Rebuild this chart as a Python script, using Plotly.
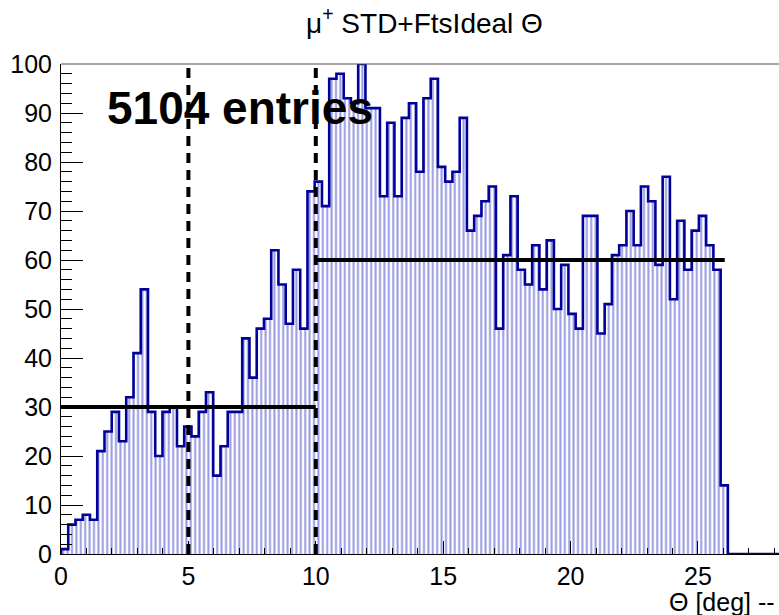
import numpy as np
import plotly.graph_objects as go

# Theta distribution of mu+ tracks (STD+FtsIdeal), 92 filled bins starting at 0 deg
bin_width = 0.2845
counts = [1, 6, 7, 8, 7, 21, 25, 29, 23, 32, 41, 54, 29, 20, 29, 30, 22, 26,
          24, 29, 33, 16, 22, 29, 29, 44, 36, 46, 48, 62, 55, 47, 58, 46, 74,
          76, 71, 97, 98, 93, 92, 100, 91, 91, 73, 88, 73, 89, 92, 78, 93, 97,
          79, 76, 78, 89, 66, 69, 72, 75, 46, 61, 73, 58, 55, 63, 54, 64, 50, 59,
          49, 46, 69, 69, 45, 51, 61, 63, 70, 63, 75, 72, 59, 77, 52, 68, 58, 66,
          69, 63, 58, 14]

# Region boundaries (dashed) and plateau levels (solid)
cut_positions = [5, 10]
plateaus = [(0, 10, 30), (10, 26.05, 60)]

x_max = 28.18
y_max = 100
x_ticks = [0, 5, 10, 15, 20, 25]
y_ticks = list(range(0, 101, 10))

title_text = "μ<sup>+</sup> STD+FtsIdeal Θ"
xaxis_text = "Θ [deg] --"
entries_text = f"{sum(counts)} entries"

FONT = "Liberation Sans, Arial, sans-serif"
LINE_BLUE = "rgb(0,0,155)"
HATCH_BLUE = "rgb(50,50,195)"

n = len(counts)
centers = (np.arange(n) + 0.5) * bin_width
edges = np.arange(n + 1) * bin_width

fig = go.Figure()

# Hatched bin bodies
fig.add_trace(go.Bar(
    x=centers, y=counts, width=bin_width,
    marker=dict(
        color="white",
        line=dict(width=0),
        pattern=dict(shape="|", fgcolor=HATCH_BLUE, bgcolor="white",
                     size=4.4, solidity=0.45, fillmode="overlay"),
    ),
    showlegend=False, hoverinfo="skip",
))

# Histogram outline as a step line
step_x = [0.0] + list(edges[:-1]) + [edges[-1], x_max]
step_y = [0] + counts + [0, 0]
fig.add_trace(go.Scatter(
    x=step_x, y=step_y, mode="lines",
    line=dict(color=LINE_BLUE, width=2.6, shape="hv"),
    showlegend=False, hoverinfo="skip", cliponaxis=False,
))

shapes = []
for xc in cut_positions:
    shapes.append(dict(type="line", xref="x", yref="y", x0=xc, x1=xc, y0=0, y1=y_max,
                       line=dict(color="black", width=4, dash="10px,7px")))
for x0, x1, lvl in plateaus:
    shapes.append(dict(type="line", xref="x", yref="y", x0=x0, x1=x1, y0=lvl, y1=lvl,
                       line=dict(color="black", width=4)))
# Top frame edge
shapes.append(dict(type="line", xref="paper", yref="paper", x0=0, x1=1, y0=1, y1=1,
                   line=dict(color="rgb(80,80,80)", width=1.2)))

annotations = [
    dict(text=title_text, xref="paper", yref="paper", x=0.5056, y=1.088,
         xanchor="center", yanchor="middle", showarrow=False,
         font=dict(family=FONT, size=28, color="black")),
    dict(text=entries_text, xref="paper", yref="paper", x=0.0613, y=0.910,
         xanchor="left", yanchor="middle", showarrow=False,
         font=dict(family=FONT, size=46, color="black", weight="bold")),
    dict(text=xaxis_text, xref="paper", yref="paper", x=0.997, y=-0.098,
         xanchor="right", yanchor="middle", showarrow=False,
         font=dict(family=FONT, size=25, color="black")),
]

fig.update_layout(
    width=779, height=615,
    margin=dict(l=61, r=0, t=64, b=61),
    paper_bgcolor="white", plot_bgcolor="white",
    bargap=0,
    shapes=shapes, annotations=annotations,
    font=dict(family=FONT, size=25, color="black"),
    xaxis=dict(range=[0, x_max], tickvals=x_ticks, ticks="inside", ticklen=13,
               tickwidth=1, tickcolor="black", showgrid=False, zeroline=False,
               showline=True, linecolor="black", linewidth=1,
               tickfont=dict(size=25), ticklabelstandoff=0,
               minor=dict(dtick=1, ticks="inside", ticklen=6, tickcolor="black", showgrid=False)),
    yaxis=dict(range=[0, y_max], tickvals=y_ticks, ticks="inside", ticklen=22,
               tickwidth=1, tickcolor="black", showgrid=False, zeroline=False,
               showline=True, linecolor="black", linewidth=1,
               tickfont=dict(size=25), ticklabelstandoff=3,
               minor=dict(dtick=2, ticks="inside", ticklen=11, tickcolor="black", showgrid=False)),
)

fig.write_html("out.html")
